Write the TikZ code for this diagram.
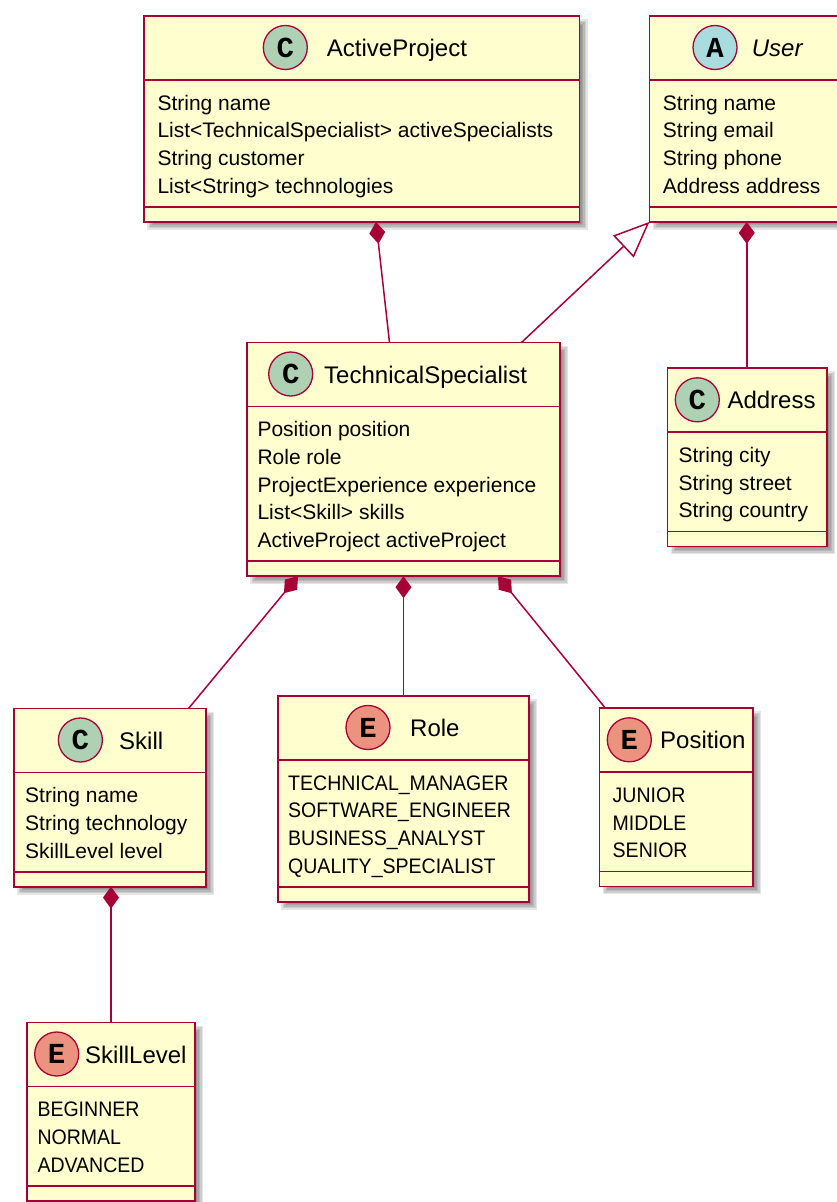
\documentclass[tikz,border=0pt]{standalone}
\usepackage{fontspec}
\setmainfont{Liberation Sans}
\newfontfamily\badgefont{Liberation Mono}
\newfontfamily\constfont{Liberation Sans}[FakeStretch=0.93]
\usetikzlibrary{arrows.meta,calc}

\definecolor{umlfill}{HTML}{FEFECE}
\definecolor{umlline}{HTML}{A80036}
\definecolor{cclass}{HTML}{ADD1B2}
\definecolor{cabstract}{HTML}{A9DCDF}
\definecolor{cenum}{HTML}{EB937F}

\tikzset{
  box/.style={draw=umlline, fill=umlfill, line width=1.8pt, inner sep=0pt, outer sep=0pt, rectangle},
  sepline/.style={draw=umlline, line width=1.8pt},
  badge/.style={circle, draw=umlline, line width=1.3pt, minimum size=44pt, inner sep=0pt,
    font=\badgefont\bfseries\fontsize{29}{29}\selectfont},
  classname/.style={anchor=base west, inner sep=0pt, font=\fontsize{24}{28}\selectfont},
  attr/.style={anchor=base west, inner sep=0pt, font=\fontsize{21}{28}\selectfont},
  const/.style={attr, font=\constfont\fontsize{21}{28}\selectfont},
  link/.style={draw=umlline, line width=1.5pt},
  compose/.style={link, {Diamond[length=22pt,width=16pt]}-},
  extends/.style={link, -{Triangle[length=36pt,width=30pt,fill=white]}},
}

% class box: name, left, top, right, number of attribute lines
\newcommand\classbox[5]{%
  \pgfmathsetmacro\cbSepA{#3+64}%
  \pgfmathsetmacro\cbSepB{#3+64+22.5+27.8*(#5-1)+21}%
  \pgfmathsetmacro\cbBot{\cbSepB+15}%
  \pgfmathsetmacro\cbWd{#4-#2}%
  \pgfmathsetmacro\cbHt{\cbBot-#3}%
  \foreach \e in {-3,-1.5,0,1.5,3}{%
    \fill[black, opacity=0.1] (#2+6-\e, #3+6-\e) rectangle (#4+5+\e, \cbBot+5+\e);
  }%
  \node[box, minimum width=\cbWd pt, minimum height=\cbHt pt, anchor=north west] (#1) at (#2,#3) {};
  \draw[sepline] (#2,\cbSepA) -- (#4,\cbSepA);
  \draw[sepline] (#2,\cbSepB) -- (#4,\cbSepB);
}

% header: name, box top, badge x, badge letter, badge colour, title x, title text
\newcommand\classhead[7]{%
  \node[badge, fill=#5] (#1-badge) at (#3, #2+31.5) {#4};
  \node[classname] (#1-name) at (#6, #2+40.5) {#7};
}

% member lines: style, name, x, box top, list
\newcommand\memberlist[5]{%
  \foreach \t [count=\i] in {#5}{%
    \node[#1] (#2-a\i) at (#3, #4+64+22.5+27.8*\i-27.8+7.5) {\t};
  }%
}

\begin{document}
\begin{tikzpicture}[x=1pt, y=-1pt]
\useasboundingbox (0,0) rectangle (836,1202);
\fill[white] (0,0) rectangle (836,1202);

% ActiveProject
\classbox{ap}{144}{16}{579.5}{4}
\classhead{ap}{16}{285.3}{C}{cclass}{326.7}{ActiveProject}
\memberlist{attr}{ap}{157.3}{16}{String name, List<TechnicalSpecialist> activeSpecialists, String customer, List<String> technologies}

% User (abstract)
\classbox{user}{649.5}{16}{844}{4}
\classhead{user}{16}{715}{A}{cabstract}{751.7}{\itshape User}
\memberlist{attr}{user}{662.7}{16}{String name, String email, String phone, Address address}

% TechnicalSpecialist
\classbox{ts}{247}{342.5}{560}{5}
\classhead{ts}{342.5}{290.7}{C}{cclass}{324}{TechnicalSpecialist}
\memberlist{attr}{ts}{257.3}{342.5}{Position position, Role role, ProjectExperience experience, List<Skill> skills, ActiveProject activeProject}

% Address
\classbox{addr}{667.5}{368.3}{827}{3}
\classhead{addr}{368.3}{697.3}{C}{cclass}{727.3}{Address}
\memberlist{attr}{addr}{678.3}{368.3}{String city, String street, String country}

% Skill
\classbox{skill}{14}{708.5}{206}{3}
\classhead{skill}{708.5}{80.4}{C}{cclass}{119}{Skill}
\memberlist{attr}{skill}{25}{708.5}{String name, String technology, SkillLevel level}

% Role
\classbox{role}{278}{696}{529}{4}
\classhead{role}{696}{368}{E}{cenum}{410}{Role}
\memberlist{const}{role}{288}{696}{TECHNICAL\_MANAGER, SOFTWARE\_ENGINEER, BUSINESS\_ANALYST, QUALITY\_SPECIALIST}

% Position
\classbox{pos}{599.5}{708.3}{753.3}{3}
\classhead{pos}{708.3}{629.3}{E}{cenum}{660}{Position}
\memberlist{const}{pos}{612.5}{708.3}{JUNIOR, MIDDLE, SENIOR}

% SkillLevel
\classbox{sl}{27}{1022.5}{195}{3}
\classhead{sl}{1022.5}{56.7}{E}{cenum}{85}{SkillLevel}
\memberlist{const}{sl}{37.3}{1022.5}{BEGINNER, NORMAL, ADVANCED}

% relations
\draw[compose] (ap.south -| 376,0) -- (ts.north -| 389.5,0);
\draw[extends] (ts.north -| 521.5,0) -- (user.south west);
\draw[compose] (user.south) -- (user.south |- addr.north);
\draw[compose] (ts.south -| 298,0) -- (skill.north -| 188.5,0);
\draw[compose] (ts.south -| 403.5,0) -- (role.north);
\draw[compose] (ts.south -| 498,0) -- (pos.north -| 605.5,0);
\draw[compose] (skill.south -| 111,0) -- (sl.north -| 111,0);
\end{tikzpicture}
\end{document}
